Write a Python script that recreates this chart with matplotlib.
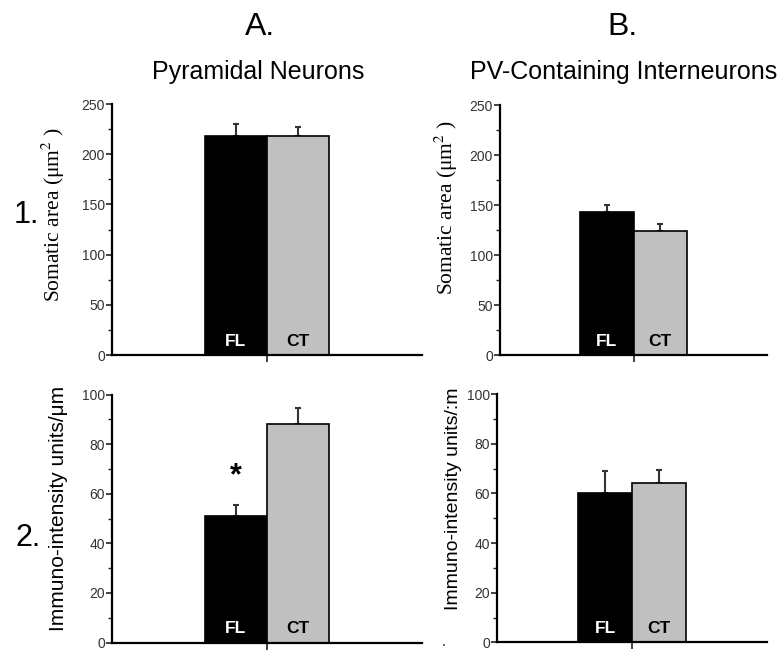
import numpy as np
import matplotlib.pyplot as plt
from matplotlib.ticker import MultipleLocator

plt.rcParams['font.family'] = ['Liberation Sans', 'DejaVu Sans']
plt.rcParams['mathtext.fontset'] = 'stix'

groups = ["FL", "CT"]
bar_colors = ["#000000", "#c0c0c0"]
label_colors = ["white", "black"]

# somatic area (um^2)
pyr_area = [218, 218]
pyr_area_err = [12, 9]
pv_area = [143, 124]
pv_area_err = [7.5, 7]

# immuno-intensity units / um
pyr_int = [51, 88]
pyr_int_err = [4.5, 6.5]
pv_int = [60, 64]
pv_int_err = [9, 5.5]

fig = plt.figure(figsize=(7.83, 6.5), dpi=100)


def panel(rect, vals, errs, ymax, major, ylabel, ylab_xy, ylab_font, ylab_size):
    ax = fig.add_axes(rect)
    x = np.array([-0.5, 0.5])
    ax.bar(x, vals, width=1.0, color=bar_colors, edgecolor="black", linewidth=1.2, zorder=2)
    ax.errorbar(x, vals, yerr=[[0, 0], errs], fmt="none", ecolor="#333333",
                elinewidth=1.5, capsize=2.5, capthick=1.5, zorder=1)
    for xi, g, c in zip(x, groups, label_colors):
        ax.text(xi, 0.055, g, transform=ax.get_xaxis_transform(), ha="center", va="center",
                color=c, fontsize=12.5, fontweight="bold")
    ax.set_xlim(-2.5, 2.5)
    ax.set_ylim(0, ymax)
    ax.set_xticks([0])
    ax.set_xticklabels([])
    ax.yaxis.set_major_locator(MultipleLocator(major))
    ax.yaxis.set_minor_locator(MultipleLocator(major / 2))
    ax.tick_params(axis="y", which="major", length=4, width=1.2, color="#222222",
                   labelsize=10, labelcolor="#333333", pad=1)
    ax.tick_params(axis="y", which="minor", length=3, width=1.0, color="#222222")
    ax.tick_params(axis="x", length=5, width=1.2, color="#222222")
    for s in ["top", "right"]:
        ax.spines[s].set_visible(False)
    for s in ["left", "bottom"]:
        ax.spines[s].set_linewidth(1.6)
    ax.set_ylabel(ylabel, fontsize=ylab_size, family=ylab_font)
    ax.yaxis.set_label_coords(*ylab_xy)
    return ax


a1 = panel([0.143, 0.4538, 0.396, 0.386], pyr_area, pyr_area_err, 250, 50,
           "Somatic area (μm$^{2}$ )", (-0.145, 0.56), ["Liberation Serif", "DejaVu Serif"], 15.5)
b1 = panel([0.6386, 0.4538, 0.341, 0.3846], pv_area, pv_area_err, 250, 50,
           "Somatic area (μm$^{2}$ )", (-0.15, 0.59), ["Liberation Serif", "DejaVu Serif"], 15.5)
a2 = panel([0.143, 0.0115, 0.396, 0.3815], pyr_int, pyr_int_err, 100, 20,
           "Immuno-intensity units/μm", (-0.142, 0.54), ["Liberation Sans", "DejaVu Sans"], 15)
b2 = panel([0.6347, 0.0118, 0.345, 0.382], pv_int, pv_int_err, 100, 20,
           "Immuno-intensity units/:m", (-0.13, 0.58), ["Liberation Sans", "DejaVu Sans"], 14)

a2.text(-0.5, 67, "*", ha="center", va="center", fontsize=22, fontweight="bold")

fig.text(0.332, 0.958, "A.", ha="center", va="center", fontsize=23)
fig.text(0.795, 0.958, "B.", ha="center", va="center", fontsize=23)
fig.text(0.330, 0.889, "Pyramidal Neurons", ha="center", va="center", fontsize=18)
fig.text(0.797, 0.889, "PV-Containing Interneurons", ha="center", va="center", fontsize=18)
fig.text(0.034, 0.669, "1.", ha="center", va="center", fontsize=22)
fig.text(0.036, 0.172, "2.", ha="center", va="center", fontsize=22)
fig.text(0.566, 0.012, ".", ha="center", va="center", fontsize=10)

fig.savefig("out.png", dpi=100)
